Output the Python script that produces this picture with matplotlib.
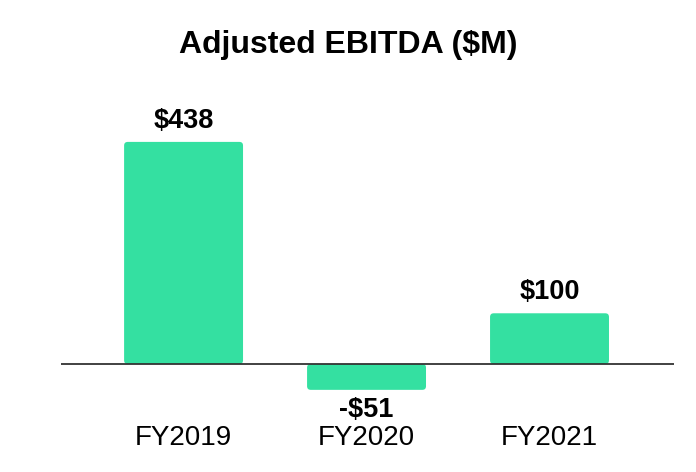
import numpy as np
import matplotlib
matplotlib.use('Agg')
import matplotlib.pyplot as plt
from matplotlib.patches import FancyBboxPatch

years = ['FY2019', 'FY2020', 'FY2021']
ebitda = [438, -51, 100]
value_labels = ['$438', '-$51', '$100']

plt.rcParams['font.family'] = ['Liberation Sans', 'DejaVu Sans']
green = '#34e0a1'

fig = plt.figure(figsize=(6.96, 4.72), dpi=100)
ax = fig.add_axes([0.0876, 0.1314, 0.8807, 0.6568])
xlim = (-0.67, 2.68)
ylim = (-90.7, 520.7)
ax.set_xlim(*xlim)
ax.set_ylim(*ylim)

x = np.arange(len(years))
bars = ax.bar(x, ebitda, width=0.65, color=green)

# swap plain bars for rounded ones
fig_w_px = 0.8807 * 696
fig_h_px = 0.6568 * 472
aspect = ((ylim[1] - ylim[0]) / fig_h_px) / ((xlim[1] - xlim[0]) / fig_w_px)
for b in bars:
    b.set_visible(False)
    y0 = min(b.get_y(), b.get_y() + b.get_height())
    h = abs(b.get_height())
    ax.add_patch(FancyBboxPatch((b.get_x(), y0), b.get_width(), h,
                                boxstyle='round,pad=0,rounding_size=0.02',
                                mutation_aspect=aspect, fc=green, ec='none', zorder=2))

ax.axhline(0, color='#333333', lw=1.3, zorder=3)

for xi, v, lab in zip(x, ebitda, value_labels):
    if v >= 0:
        ax.annotate(lab, (xi, v), xytext=(0, 6), textcoords='offset points',
                    ha='center', va='bottom', fontsize=19.5, fontweight='bold')
    else:
        ax.annotate(lab, (xi, v), xytext=(0, -5), textcoords='offset points',
                    ha='center', va='top', fontsize=19.5, fontweight='bold')

ax.set_xticks(x)
ax.set_xticklabels(years, fontsize=20)
ax.tick_params(axis='x', length=0, pad=11)
ax.set_yticks([])
for s in ax.spines.values():
    s.set_visible(False)

fig.text(0.5, 1 - 45 / 472, 'Adjusted EBITDA ($M)', ha='center', va='center',
         fontsize=23, fontweight='bold')

fig.savefig('out.png', dpi=100)
